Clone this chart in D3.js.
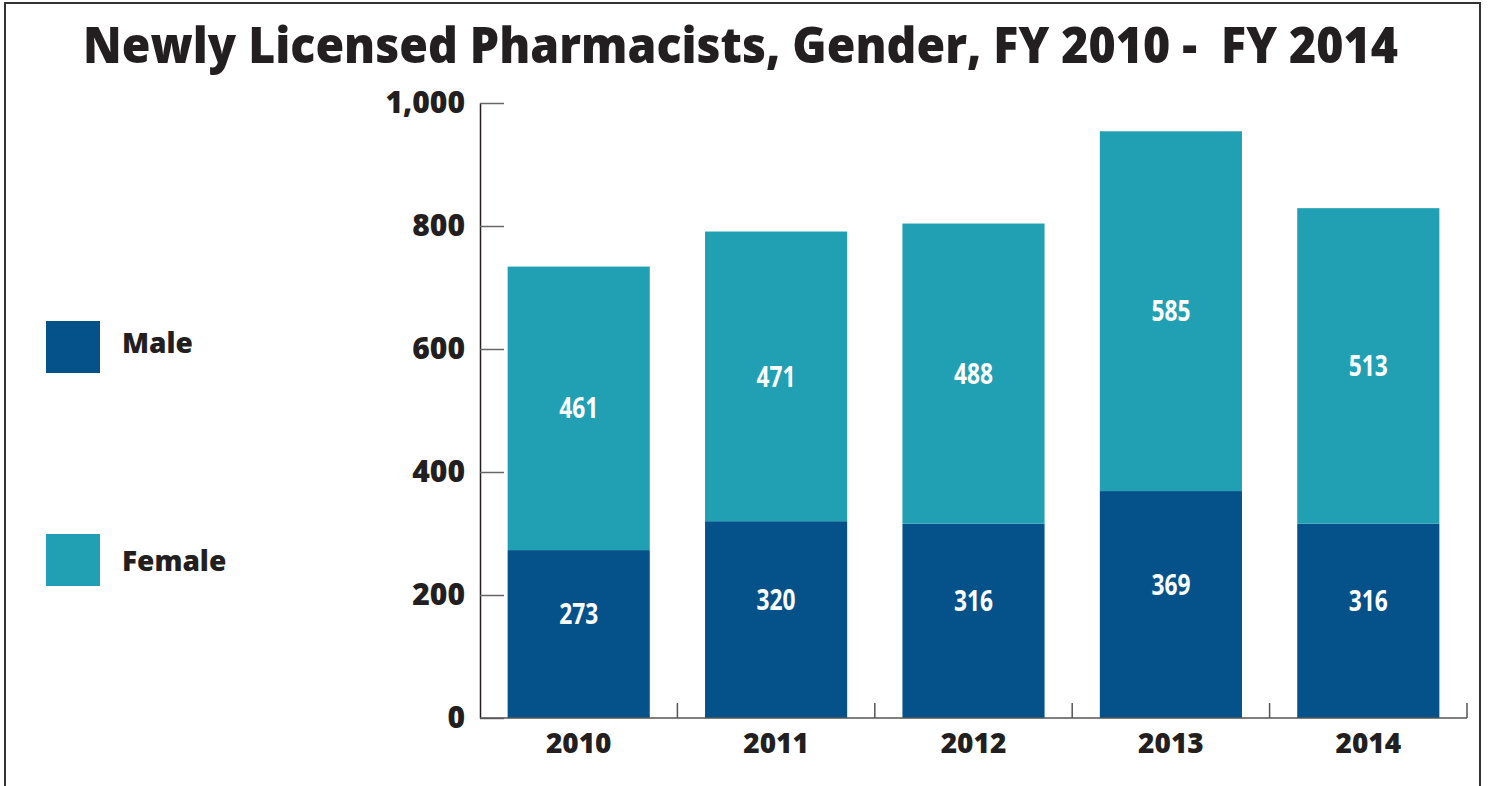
<!DOCTYPE html>
<html>
<head>
<meta charset="utf-8">
<script src="https://cdn.jsdelivr.net/npm/d3@7"></script>
<style>
  body { margin: 0; background: #fff; }
  svg { display: block; }
  text { font-family: "Open Sans", "Noto Sans", sans-serif; font-weight: 800; fill: #231f20; }
  .val { fill: #fff; font-weight: bold; }
</style>
</head>
<body>
<svg id="chart"></svg>
<script>
var years = ["2010", "2011", "2012", "2013", "2014"];
var male = [273, 320, 316, 369, 316];
var female = [461, 471, 488, 585, 513];
var yTicks = [0, 200, 400, 600, 800, 1000];
var seriesNames = ["Male", "Female"];
var colors = ["#05518a", "#21a0b4"];

var width = 1489, height = 786;
var svg = d3.select("#chart").attr("width", width).attr("height", height);

// frame
svg.append("rect")
    .attr("x", 5).attr("y", 3)
    .attr("width", 1475).attr("height", 820)
    .attr("fill", "none")
    .attr("stroke", "#333")
    .attr("stroke-width", 2);

// title, squeezed horizontally to the reference width
var title = svg.append("text")
    .attr("text-anchor", "middle")
    .attr("font-size", 50)
    .style("white-space", "pre")
    .text("Newly Licensed Pharmacists, Gender, FY 2010 -  FY 2014");
var tw = title.node().getComputedTextLength();
var sx = Math.min(1, 1315 / tw);
title.attr("transform", "translate(740.5,63) scale(" + sx + ",1)");

var x = d3.scaleBand()
    .domain(years)
    .range([480, 1467])
    .paddingInner(0.28)
    .paddingOuter(0.14);

var y = d3.scaleLinear()
    .domain([0, 1000])
    .range([718, 103]);

var rows = years.map((yr, i) => ({ year: yr, Male: male[i], Female: female[i] }));
var stacked = d3.stack().keys(seriesNames)(rows);

// bars
var layer = svg.selectAll(".layer")
    .data(stacked)
    .enter()
    .append("g")
    .attr("class", "layer")
    .attr("fill", (d, i) => colors[i]);

layer.selectAll("rect")
    .data(d => d)
    .enter()
    .append("rect")
    .attr("x", d => x(d.data.year))
    .attr("y", d => y(d[1]))
    .attr("width", x.bandwidth())
    .attr("height", d => y(d[0]) - y(d[1]));

// value labels (condensed look)
layer.selectAll(".val")
    .data((d, i) => d.map(p => ({ p: p, k: i })))
    .enter()
    .append("text")
    .attr("class", "val")
    .attr("x", d => x(d.p.data.year) + x.bandwidth() / 2)
    .attr("y", d => (y(d.p[0]) + y(d.p[1])) / 2 - (d.k === 0 ? 20 : 0))
    .attr("dy", "0.35em")
    .attr("text-anchor", "middle")
    .attr("font-size", 29)
    .attr("textLength", 39)
    .attr("lengthAdjust", "spacingAndGlyphs")
    .text(d => d.p[1] - d.p[0]);

// y axis
var yAxis = svg.append("g")
    .attr("transform", "translate(480,0)")
    .call(d3.axisLeft(y)
        .tickValues(yTicks)
        .tickFormat(d3.format(","))
        .tickSizeInner(-24)
        .tickSizeOuter(0)
        .tickPadding(15));
yAxis.select(".domain").attr("stroke", "#231f20").attr("stroke-width", 1.5);
yAxis.selectAll(".tick line").attr("stroke", "#666").attr("stroke-width", 1.5);
yAxis.selectAll(".tick text")
    .attr("font-size", 30)
    .attr("font-family", "'Open Sans', sans-serif")
    .attr("font-weight", 800)
    .attr("fill", "#231f20");

// x axis baseline and category separators
svg.append("line")
    .attr("x1", 480).attr("x2", 1467)
    .attr("y1", y(0)).attr("y2", y(0))
    .attr("stroke", "#555").attr("stroke-width", 1.5);

var bounds = d3.range(years.length + 1).map(i => 480 + i * x.step());
svg.selectAll(".sep")
    .data(bounds.slice(1))
    .enter()
    .append("line")
    .attr("x1", d => d).attr("x2", d => d)
    .attr("y1", y(0)).attr("y2", y(0) - 15)
    .attr("stroke", "#555").attr("stroke-width", 1.5);

svg.selectAll(".xlab")
    .data(years)
    .enter()
    .append("text")
    .attr("x", d => x(d) + x.bandwidth() / 2)
    .attr("y", 753)
    .attr("text-anchor", "middle")
    .attr("font-size", 28)
    .text(d => d);

// legend
var legend = svg.selectAll(".legend")
    .data(seriesNames)
    .enter()
    .append("g")
    .attr("transform", (d, i) => "translate(46," + (321 + i * 213) + ")");

legend.append("rect")
    .attr("width", 54).attr("height", 52)
    .attr("fill", (d, i) => colors[i]);

legend.append("text")
    .attr("x", 76)
    .attr("y", (d, i) => 32 + i * 5)
    .attr("font-size", 28)
    .text(d => d);
</script>
</body>
</html>
